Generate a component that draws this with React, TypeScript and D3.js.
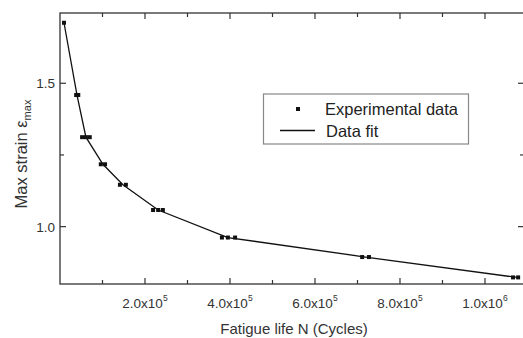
import React from "react";
import * as d3 from "d3";

// experimental points (fatigue life N, max strain)
const expN = [9.4e3, 3.8e4, 4.3e4, 5.2e4, 6.1e4, 7.0e4, 9.6e4, 1.06e5, 1.41e5, 1.55e5,
  2.19e5, 2.31e5, 2.42e5, 3.81e5, 3.95e5, 4.12e5, 7.11e5, 7.27e5, 1.066e6, 1.078e6];
const expStrain = [1.711, 1.459, 1.459, 1.312, 1.312, 1.312, 1.2175, 1.2175, 1.146, 1.146,
  1.058, 1.058, 1.058, 0.962, 0.962, 0.962, 0.894, 0.894, 0.823, 0.823];

// fitted curve
const fitN = [9.4e3, 4.0e4, 6.1e4, 1.01e5, 1.48e5, 2.31e5, 3.95e5, 7.19e5, 1.075e6];
const fitStrain = [1.711, 1.459, 1.312, 1.2175, 1.146, 1.058, 0.962, 0.894, 0.823];

const xMajor = [2e5, 4e5, 6e5, 8e5, 1e6];
const xMajorLabels = [["2.0x10", "5"], ["4.0x10", "5"], ["6.0x10", "5"], ["8.0x10", "5"], ["1.0x10", "6"]];
const xMinor = [1e5, 3e5, 5e5, 7e5, 9e5];
const yMajor = [1.0, 1.5];
const yMajorLabels = ["1.0", "1.5"];
const yMinor = [1.25];

const W = 523, H = 338;
const margin = { top: 13, right: -1, bottom: 54, left: 60 };
const font = "'Liberation Sans', Arial, sans-serif";
const ink = "#333";

export default function App() {
  const x = d3.scaleLinear().domain([0, 1.0918e6]).range([margin.left, W - margin.right]);
  const y = d3.scaleLinear().domain([0.8, 1.745]).range([H - margin.bottom, margin.top]);
  const [x0, x1] = x.range();
  const [y0, y1] = y.range(); // y0 bottom, y1 top

  const line = d3.line<number>()
    .x((_, i) => x(fitN[i]))
    .y((d) => y(d));

  const maj = 6, min = 4;

  return (
    <svg width={W} height={H} style={{ position: "absolute", left: 0, top: 0, background: "#fff" }}
      fontFamily={font}>
      {/* frame */}
      <rect x={x0} y={y1} width={x1 - x0} height={y0 - y1} fill="none" stroke={ink} strokeWidth={1.3} />

      {/* x ticks (bottom and top, inward) */}
      {xMajor.map((v) => (
        <g key={"xm" + v} stroke={ink} strokeWidth={1.2}>
          <line x1={x(v)} x2={x(v)} y1={y0} y2={y0 - maj} />
          <line x1={x(v)} x2={x(v)} y1={y1} y2={y1 + maj} />
        </g>
      ))}
      {xMinor.map((v) => (
        <g key={"xn" + v} stroke={ink} strokeWidth={1.2}>
          <line x1={x(v)} x2={x(v)} y1={y0} y2={y0 - min} />
          <line x1={x(v)} x2={x(v)} y1={y1} y2={y1 + min} />
        </g>
      ))}
      {xMajor.map((v, i) => (
        <text key={"xl" + v} x={x(v)} y={y0 + 24} fontSize={13.5} fill={ink} textAnchor="middle">
          {xMajorLabels[i][0]}
          <tspan fontSize={8.5} dy={-7}>{xMajorLabels[i][1]}</tspan>
        </text>
      ))}

      {/* y ticks (left and right, inward) */}
      {yMajor.map((v) => (
        <g key={"ym" + v} stroke={ink} strokeWidth={1.2}>
          <line x1={x0} x2={x0 + maj} y1={y(v)} y2={y(v)} />
          <line x1={x1} x2={x1 - maj} y1={y(v)} y2={y(v)} />
        </g>
      ))}
      {yMinor.map((v) => (
        <g key={"yn" + v} stroke={ink} strokeWidth={1.2}>
          <line x1={x0} x2={x0 + min} y1={y(v)} y2={y(v)} />
          <line x1={x1} x2={x1 - min} y1={y(v)} y2={y(v)} />
        </g>
      ))}
      {yMajor.map((v, i) => (
        <text key={"yl" + v} x={x0 - 5} y={y(v) + 5} fontSize={13.5} fill={ink} textAnchor="end">
          {yMajorLabels[i]}
        </text>
      ))}

      {/* axis titles */}
      <text x={294} y={334} fontSize={15} fill={ink} textAnchor="middle">
        Fatigue life N (Cycles)
      </text>
      <text transform="translate(27,154) rotate(-90)" fontSize={16.5} fill={ink} textAnchor="middle">
        Max strain ε<tspan fontSize={11} dy={4}>max</tspan>
      </text>

      {/* fit line */}
      <path d={line(fitStrain) || ""} fill="none" stroke="#111" strokeWidth={1.3} />

      {/* experimental points */}
      {expN.map((n, i) => (
        <rect key={"p" + i} x={x(n) - 2} y={y(expStrain[i]) - 2} width={4} height={4} fill="#111" />
      ))}

      {/* legend */}
      <rect x={263.5} y={94} width={205} height={50} fill="#fff" stroke="#888" strokeWidth={1.2} />
      <rect x={296} y={107} width={4} height={4} fill="#111" />
      <text x={325} y={115} fontSize={16.5} fill="#222">Experimental data</text>
      <line x1={280} x2={315} y1={130.5} y2={130.5} stroke="#111" strokeWidth={1.3} />
      <text x={326} y={136.5} fontSize={16.5} fill="#222">Data fit</text>
    </svg>
  );
}
